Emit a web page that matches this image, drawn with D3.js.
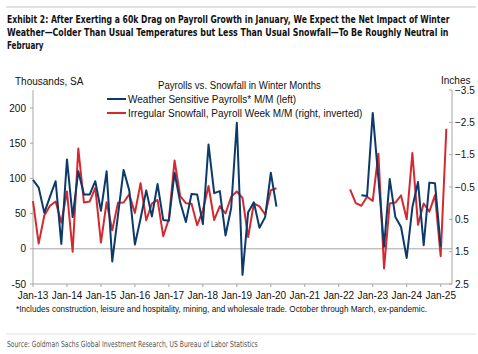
<!DOCTYPE html>
<html>
<head>
<meta charset="utf-8">
<script src="https://cdn.jsdelivr.net/npm/d3@7"></script>
<style>
    body { margin: 0; background: #fff; }
    text { font-family: "Liberation Sans", Arial, sans-serif; fill: #111; }
    .narrow { font-family: "Liberation Sans Narrow", "DejaVu Sans Condensed", "Arial Narrow", sans-serif; font-stretch: condensed; }
</style>
</head>
<body>
<svg id="chart" width="478" height="354"></svg>
<script>
// winter months only (Oct-Mar), pandemic winters left empty
const months = [
    "Jan-13", "Feb-13", "Mar-13", "Oct-13", "Nov-13", "Dec-13",
    "Jan-14", "Feb-14", "Mar-14", "Oct-14", "Nov-14", "Dec-14",
    "Jan-15", "Feb-15", "Mar-15", "Oct-15", "Nov-15", "Dec-15",
    "Jan-16", "Feb-16", "Mar-16", "Oct-16", "Nov-16", "Dec-16",
    "Jan-17", "Feb-17", "Mar-17", "Oct-17", "Nov-17", "Dec-17",
    "Jan-18", "Feb-18", "Mar-18", "Oct-18", "Nov-18", "Dec-18",
    "Jan-19", "Feb-19", "Mar-19", "Oct-19", "Nov-19", "Dec-19",
    "Jan-20", "Feb-20", "Mar-20", "Oct-20", "Nov-20", "Dec-20",
    "Jan-21", "Feb-21", "Mar-21", "Oct-21", "Nov-21", "Dec-21",
    "Jan-22", "Feb-22", "Mar-22", "Oct-22", "Nov-22", "Dec-22",
    "Jan-23", "Feb-23", "Mar-23", "Oct-23", "Nov-23", "Dec-23",
    "Jan-24", "Feb-24", "Mar-24", "Oct-24", "Nov-24", "Dec-24",
    "Jan-25", "Feb-25", "Mar-25"
];

// thousands, SA
const payrolls = [
    98, 87, 51, 74, 96, 7,
    127, 45, 110, 77, 77, 96,
    54, 110, -18, 47, 112, 83,
    6, 43, 83, 46, 92, 41,
    40, 108, 66, 38, 78, 77,
    35, 148, 79, 82, 19, 58,
    179, -37, 52, 66, 30, 45,
    108, 60, null, null, null, null,
    null, null, null, null, null, null,
    null, null, null, null, 76, 75,
    193, 100, 3, 99, 45, 31,
    -13, 59, 95, 5, 94, 93,
    3, null, null
];

// inches, plotted on the inverted right axis
const snowfall = [
    -0.06, 1.25, 0.38, 0.08, -0.05, 0.6,
    -0.36, 1.5, -1.69, -0.02, -0.05, -0.47,
    1.22, -0.03, 0.84, -0.01, -0.02, -0.27,
    0.3, -0.62, 0.53, 0.01, -0.1, 1.02,
    0.49, -1.32, -0.22, 0.0, 0.02, 0.68,
    0.22, -0.53, 0.52, 0.09, 0.32, -0.2,
    -0.36, -0.16, 1.05, 0.01, 0.1, 0.35,
    -0.4, -0.46, null, null, null, null,
    null, null, null, null, null, null,
    null, null, -0.43, 0.0, 0.08, -0.2,
    -0.07, -1.53, 2.02, 0.01, -0.02, -0.24,
    0.5, -1.55, 0.67, 0.01, 0.26, -0.25,
    1.64, -2.3, null
];

const leftTicks = [-50, 0, 50, 100, 150, 200];
const rightTicks = [-3.5, -2.5, -1.5, -0.5, 0.5, 1.5, 2.5];
const xTickLabels = ["Jan-13", "Jan-14", "Jan-15", "Jan-16", "Jan-17", "Jan-18", "Jan-19",
    "Jan-20", "Jan-21", "Jan-22", "Jan-23", "Jan-24", "Jan-25"];

const titleLines = [
    "Exhibit 2: After Exerting a 60k Drag on Payroll Growth in January, We Expect the Net Impact of Winter",
    "Weather\u2014Colder Than Usual Temperatures but Less Than Usual Snowfall\u2014To Be Roughly Neutral in",
    "February"
];

const BLUE = "#0b3a6b";
const RED = "#d42a2f";
const AXIS_GREY = "#a6a6a6";

let svg = d3.select("#chart");

let plot = { left: 33, right: 452, top: 90, bottom: 284 };

let x = d3.scalePoint()
    .domain(months)
    .range([plot.left, plot.right]);
let yLeft = d3.scaleLinear()
    .domain([-50, 200])
    .range([plot.bottom, 108]);
let yRight = d3.scaleLinear()
    .domain([-3.5, 2.5])
    .range([plot.top, plot.bottom]);

let fittedTexts = [];

// draws text and squeezes it horizontally to a given width
function fitText(parent, str, px, py, width) {
    let t = parent.append('text')
        .attr('x', 0)
        .attr('y', 0)
        .text(str);
    fittedTexts.push({ t, px, py, width });
    return t;
}

function refit() {
    fittedTexts.forEach(({ t, px, py, width }) => {
        t.attr('transform', null);
        let natural = t.node().getBBox().width;
        let sx = natural > 0 ? width / natural : 1;
        t.attr('transform', `translate(${px},${py}) scale(${sx},1)`);
    });
}

function drawHeader() {
    svg.append('line')
        .attr('x1', 6).attr('x2', 476)
        .attr('y1', 7).attr('y2', 7)
        .attr('stroke', '#d9d9d9')
        .attr('stroke-width', 1.5);

    let widths = [443, 442, 37];
    let titleG = svg.append('g')
        .classed('narrow', true)
        .style('font-size', '11px')
        .style('font-weight', 'bold');
    titleLines.forEach((line, i) => {
        fitText(titleG, line, 7, 23 + i * 13, widths[i])
            .classed('narrow', true);
    });

    svg.append('text')
        .attr('x', 15).attr('y', 85)
        .style('font-size', '10px')
        .text("Thousands, SA");
    svg.append('text')
        .attr('x', 441).attr('y', 84)
        .style('font-size', '10px')
        .text("Inches");
    let subG = svg.append('g').style('font-size', '10px');
    fitText(subG, "Payrolls vs. Snowfall in Winter Months", 158, 89, 163);
}

function drawAxes() {
    let g = svg.append('g').attr("id", 'axes-g');

    // zero line
    g.append('line')
        .attr('x1', plot.left).attr('x2', plot.right)
        .attr('y1', yLeft(0)).attr('y2', yLeft(0))
        .attr('stroke', AXIS_GREY);

    g.append('line')
        .attr('x1', plot.left).attr('x2', plot.left)
        .attr('y1', plot.top).attr('y2', plot.bottom)
        .attr('stroke', AXIS_GREY);
    g.append('line')
        .attr('x1', plot.right).attr('x2', plot.right)
        .attr('y1', plot.top).attr('y2', plot.bottom)
        .attr('stroke', AXIS_GREY);
    g.append('line')
        .attr('x1', plot.left).attr('x2', plot.right)
        .attr('y1', plot.bottom).attr('y2', plot.bottom)
        .attr('stroke', AXIS_GREY);

    g.selectAll('.left-tick').data(leftTicks).enter()
        .append('line')
        .classed('left-tick', true)
        .attr('x1', plot.left - 3).attr('x2', plot.left)
        .attr('y1', d => yLeft(d)).attr('y2', d => yLeft(d))
        .attr('stroke', AXIS_GREY);
    g.selectAll('.left-label').data(leftTicks).enter()
        .append('text')
        .classed('left-label', true)
        .attr('x', 26)
        .attr('y', d => yLeft(d) + 3.5)
        .attr('text-anchor', 'end')
        .style('font-size', '10px')
        .text(d => d);

    g.selectAll('.right-tick').data(rightTicks).enter()
        .append('line')
        .classed('right-tick', true)
        .attr('x1', plot.right - 3).attr('x2', plot.right)
        .attr('y1', d => yRight(d)).attr('y2', d => yRight(d))
        .attr('stroke', AXIS_GREY);
    g.selectAll('.right-label').data(rightTicks).enter()
        .append('text')
        .classed('right-label', true)
        .attr('x', 455)
        .attr('y', d => yRight(d) + 3.5)
        .style('font-size', '10px')
        .text(d => d3.format(".1f")(d));

    g.selectAll('.x-tick').data(xTickLabels).enter()
        .append('line')
        .classed('x-tick', true)
        .attr('x1', d => x(d)).attr('x2', d => x(d))
        .attr('y1', plot.bottom).attr('y2', plot.bottom + 3)
        .attr('stroke', AXIS_GREY);
    g.selectAll('.x-label').data(xTickLabels).enter()
        .append('text')
        .classed('x-label', true)
        .attr('x', d => x(d))
        .attr('y', 299)
        .attr('text-anchor', 'middle')
        .style('font-size', '10px')
        .text(d => d);
}

function drawSeries() {
    let g = svg.append('g').attr("id", 'series-g');

    let payrollLine = d3.line()
        .defined(d => d.val != null)
        .x(d => x(d.month))
        .y(d => yLeft(d.val));
    let snowLine = d3.line()
        .defined(d => d.val != null)
        .x(d => x(d.month))
        .y(d => yRight(d.val));

    g.append('path')
        .datum(months.map((m, i) => ({ month: m, val: snowfall[i] })))
        .attr('d', snowLine)
        .attr('fill', 'none')
        .attr('stroke', RED)
        .attr('stroke-width', 2)
        .attr('stroke-linejoin', 'round');

    g.append('path')
        .datum(months.map((m, i) => ({ month: m, val: payrolls[i] })))
        .attr('d', payrollLine)
        .attr('fill', 'none')
        .attr('stroke', BLUE)
        .attr('stroke-width', 2)
        .attr('stroke-linejoin', 'round');
}

function drawLegend() {
    let items = [
        { label: "Weather Sensitive Payrolls* M/M (left)", color: BLUE, y: 99 },
        { label: "Irregular Snowfall, Payroll Week M/M (right, inverted)", color: RED, y: 113 }
    ];
    let g = svg.append('g').attr("id", 'legend-g');
    items.forEach(item => {
        g.append('line')
            .attr('x1', 107).attr('x2', 126)
            .attr('y1', item.y).attr('y2', item.y)
            .attr('stroke', item.color)
            .attr('stroke-width', 2);
        g.append('text')
            .attr('x', 128)
            .attr('y', item.y + 3.5)
            .style('font-size', '10px')
            .text(item.label);
    });
}

function drawFooter() {
    let noteG = svg.append('g').style('font-size', '8.5px');
    fitText(noteG, "*Includes construction, leisure and hospitality, mining, and wholesale trade. October through March, ex-pandemic.",
        16, 312, 412);

    svg.append('line')
        .attr('x1', 6).attr('x2', 476)
        .attr('y1', 334).attr('y2', 334)
        .attr('stroke', '#e3e3e3');

    let srcG = svg.append('g')
        .classed('narrow', true)
        .style('font-size', '8.5px');
    fitText(srcG, "Source: Goldman Sachs Global Investment Research, US Bureau of Labor Statistics", 7, 347, 251)
        .classed('narrow', true)
        .style('fill', '#555');
}

drawHeader();
drawAxes();
drawSeries();
drawLegend();
drawFooter();
refit();
// measure again once every face is surely in place
if (document.fonts && document.fonts.ready) {
    document.fonts.ready.then(refit);
}
requestAnimationFrame(refit);
</script>
</body>
</html>
